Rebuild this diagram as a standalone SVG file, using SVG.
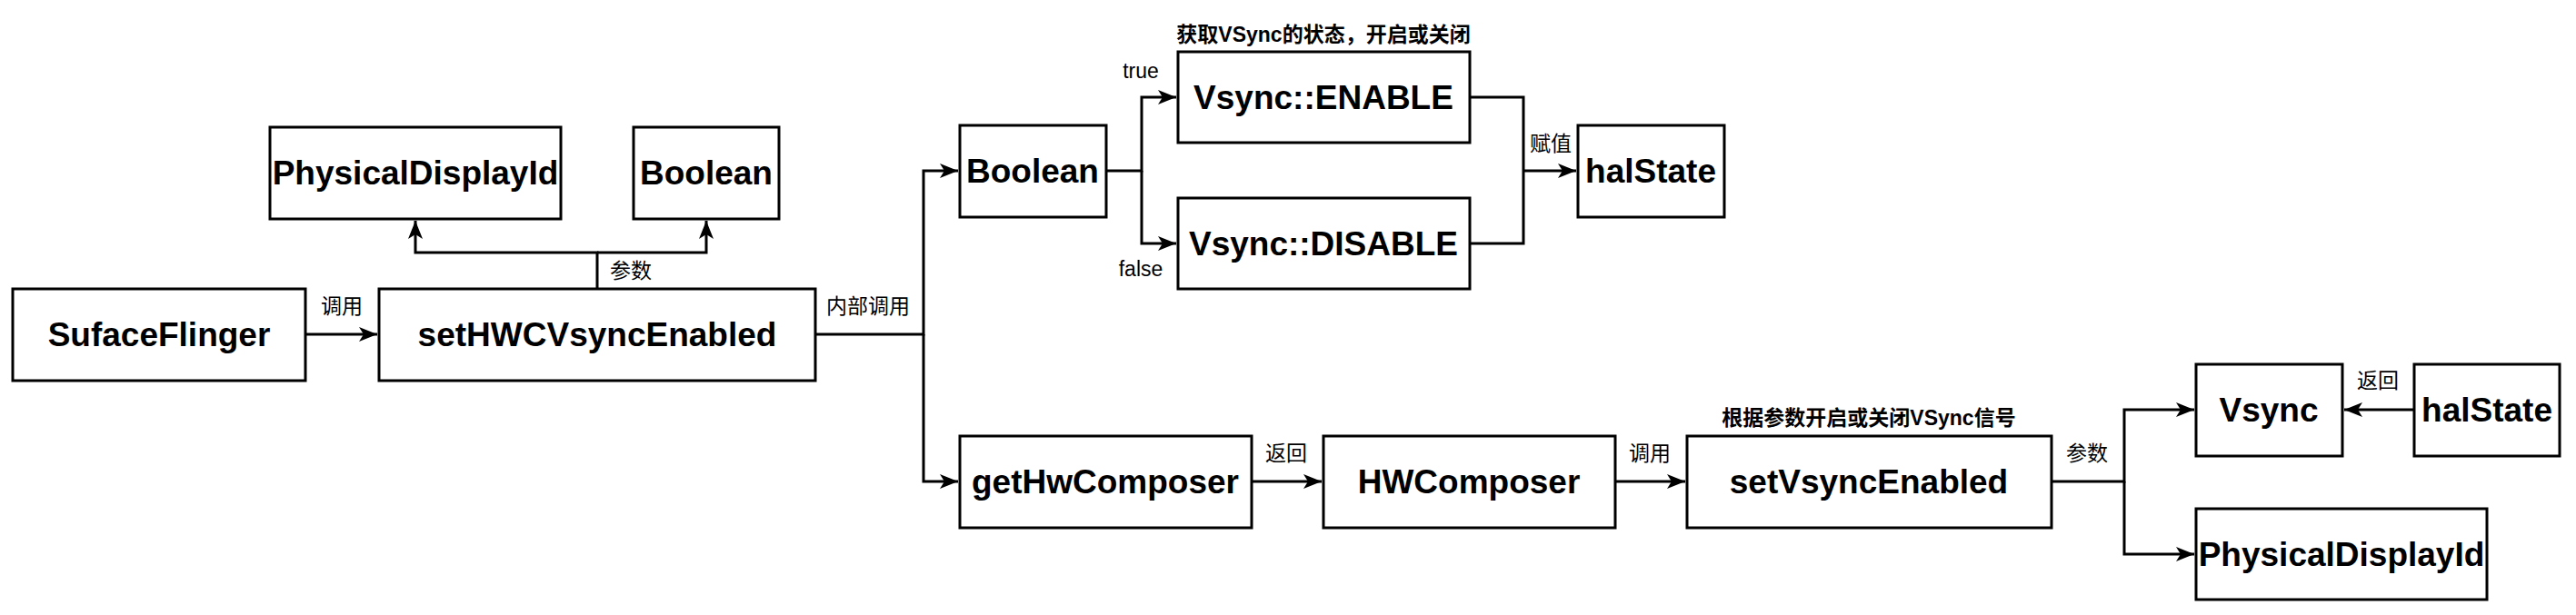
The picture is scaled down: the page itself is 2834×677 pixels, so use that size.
<svg xmlns="http://www.w3.org/2000/svg" width="2834" height="677" viewBox="0 0 2834 677">
<style>
.n rect{fill:#fff;stroke:#000;stroke-width:3}
.n text{font-family:"Liberation Sans",Arial,sans-serif;font-weight:bold;font-size:37px;text-anchor:middle;dominant-baseline:central}
.c path{fill:none;stroke:#000;stroke-width:3}
.l{font-family:"Liberation Sans","Noto Sans CJK SC",sans-serif;font-size:23px;text-anchor:middle;dominant-baseline:central}
.b{font-weight:bold}
</style>
<defs>
<marker id="m" viewBox="0 0 20 20" refX="20" refY="10" markerWidth="20" markerHeight="20" orient="auto" markerUnits="userSpaceOnUse"><path d="M0,2 L20,10 L0,18 L5,10 Z"/></marker></defs>
<g class="c">
<path d="M336,368 H415" marker-end="url(#m)"/>
<path d="M657,318 V278 H457 V243" marker-end="url(#m)"/>
<path d="M657,278 H777 V243" marker-end="url(#m)"/>
<path d="M897,368 H1016 V188 H1054" marker-end="url(#m)"/>
<path d="M1016,368 V530 H1054" marker-end="url(#m)"/>
<path d="M1217,188 H1256 V107 H1294" marker-end="url(#m)"/>
<path d="M1256,188 V268 H1294" marker-end="url(#m)"/>
<path d="M1617,107 H1676 V268 H1617"/>
<path d="M1676,188 H1734" marker-end="url(#m)"/>
<path d="M1377,530 H1454" marker-end="url(#m)"/>
<path d="M1777,530 H1854" marker-end="url(#m)"/>
<path d="M2257,530 H2337 V451 H2414" marker-end="url(#m)"/>
<path d="M2337,530 V610 H2414" marker-end="url(#m)"/>
<path d="M2656,451 H2579" marker-end="url(#m)"/>
</g>
<g id="sf" class="n"><rect x="14" y="318" width="322" height="101"/><text x="175" y="368">SufaceFlinger</text></g>
<g id="sethwc" class="n"><rect x="417" y="318" width="480" height="101"/><text x="657" y="368">setHWCVsyncEnabled</text></g>
<g id="pdid1" class="n"><rect x="297" y="140" width="320" height="101"/><text x="457" y="190">PhysicalDisplayId</text></g>
<g id="bool1" class="n"><rect x="697" y="140" width="160" height="101"/><text x="777" y="190">Boolean</text></g>
<g id="bool2" class="n"><rect x="1056" y="138" width="161" height="101"/><text x="1136" y="188">Boolean</text></g>
<g id="enable" class="n"><rect x="1296" y="57" width="321" height="100"/><text x="1456" y="107">Vsync::ENABLE</text></g>
<g id="disable" class="n"><rect x="1296" y="218" width="321" height="100"/><text x="1456" y="268">Vsync::DISABLE</text></g>
<g id="hal1" class="n"><rect x="1736" y="138" width="161" height="101"/><text x="1816" y="188">halState</text></g>
<g id="gethw" class="n"><rect x="1056" y="480" width="321" height="101"/><text x="1216" y="530">getHwComposer</text></g>
<g id="hwc" class="n"><rect x="1456" y="480" width="321" height="101"/><text x="1616" y="530">HWComposer</text></g>
<g id="setvs" class="n"><rect x="1856" y="480" width="401" height="101"/><text x="2056" y="530">setVsyncEnabled</text></g>
<g id="vsync" class="n"><rect x="2416" y="401" width="161" height="101"/><text x="2496" y="451">Vsync</text></g>
<g id="hal2" class="n"><rect x="2656" y="401" width="160" height="101"/><text x="2736" y="451">halState</text></g>
<g id="pdid2" class="n"><rect x="2416" y="560" width="320" height="100"/><text x="2576" y="610">PhysicalDisplayId</text></g>
<g id="labels">
<text class="l" x="376" y="337">调用</text>
<text class="l" x="694" y="298">参数</text>
<text class="l" x="955" y="337">内部调用</text>
<text class="l b" x="1456" y="38">获取VSync的状态，开启或关闭</text>
<text class="l" x="1255" y="78">true</text>
<text class="l" x="1255" y="296">false</text>
<text class="l" x="1706" y="158">赋值</text>
<text class="l" x="1415" y="499">返回</text>
<text class="l" x="1815" y="499">调用</text>
<text class="l b" x="2056" y="460">根据参数开启或关闭VSync信号</text>
<text class="l" x="2296" y="499">参数</text>
<text class="l" x="2616" y="419">返回</text>
</g>
</svg>
